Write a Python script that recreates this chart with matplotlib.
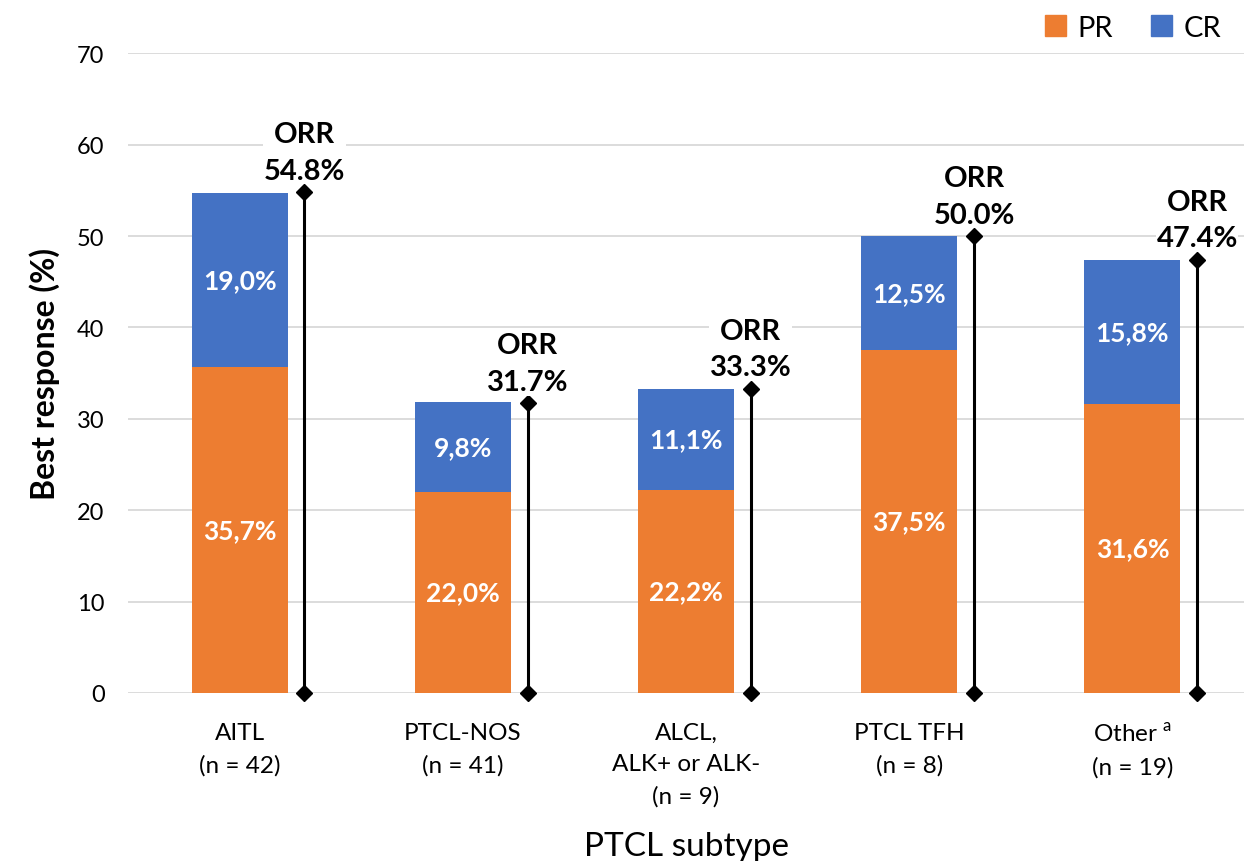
import numpy as np
import matplotlib
matplotlib.use("Agg")
import matplotlib.pyplot as plt
from matplotlib.patches import Patch

plt.rcParams['font.family'] = ['Lato', 'DejaVu Sans']
plt.rcParams['mathtext.fontset'] = 'custom'
plt.rcParams['mathtext.rm'] = 'Lato'

# PTCL subtypes and best response rates (%)
subtypes = ['AITL\n(n = 42)', 'PTCL-NOS\n(n = 41)', 'ALCL,\nALK+ or ALK-\n(n = 9)',
            'PTCL TFH\n(n = 8)', 'Other$^{\\mathrm{\\ a}}$\n(n = 19)']
pr = [35.7, 22.0, 22.2, 37.5, 31.6]
cr = [19.0, 9.8, 11.1, 12.5, 15.8]
orr = [54.8, 31.7, 33.3, 50.0, 47.4]
pr_labels = ['35,7%', '22,0%', '22,2%', '37,5%', '31,6%']
cr_labels = ['19,0%', '9,8%', '11,1%', '12,5%', '15,8%']

orange = '#ED7D31'
blue = '#4472C4'

fig = plt.figure(figsize=(12.44, 8.62), dpi=100)
ax = fig.add_axes([0.103, 0.195, 0.897, 0.742])

x = np.arange(len(subtypes))
width = 0.43
ax.bar(x, pr, width, color=orange, zorder=2)
ax.bar(x, cr, width, bottom=pr, color=blue, zorder=2)

# segment labels
for i in range(len(x)):
    ax.text(x[i], pr[i] / 2, pr_labels[i], ha='center', va='center',
            color='white', fontsize=19, fontweight='bold', zorder=3)
    ax.text(x[i], pr[i] + cr[i] / 2, cr_labels[i], ha='center', va='center',
            color='white', fontsize=19, fontweight='bold', zorder=3)

# ORR brackets
off = 0.29
for i in range(len(x)):
    ax.plot([x[i] + off, x[i] + off], [0, orr[i]], color='black', lw=2.2,
            marker='D', markersize=8, zorder=4, clip_on=False)
    ax.annotate('ORR\n%.1f%%' % orr[i], xy=(x[i] + off, orr[i]), xytext=(0, 6),
                textcoords='offset points', ha='center', va='bottom',
                fontsize=21, fontweight='bold', linespacing=1.5, zorder=5,
                bbox=dict(facecolor='white', edgecolor='none', pad=0.5))

ax.set_xlim(-0.5, 4.5)
ax.set_ylim(0, 70)
ax.set_yticks(range(0, 71, 10))
ax.set_xticks(x)
ax.set_xticklabels(subtypes, fontsize=17.5)
for lbl in ax.get_xticklabels():
    lbl.set_linespacing(1.6)
ax.tick_params(axis='y', labelsize=17, length=0, pad=17)
ax.tick_params(axis='x', length=0, pad=21)
ax.grid(axis='y', color='#D9D9D9', lw=1.3, zorder=0)
for s in ax.spines.values():
    s.set_visible(False)

ax.set_ylabel('Best response (%)', fontsize=23, fontweight='bold', labelpad=12)
ax.set_xlabel('PTCL subtype', fontsize=24, labelpad=18)

handles = [Patch(color=orange), Patch(color=blue)]
fig.legend(handles, ['PR', 'CR'], loc='upper right', bbox_to_anchor=(1.003, 1.012),
           ncol=2, frameon=False, fontsize=21, handlelength=0.72, handleheight=0.72,
           columnspacing=1.3, handletextpad=0.4)

fig.savefig('out.png', dpi=100)
